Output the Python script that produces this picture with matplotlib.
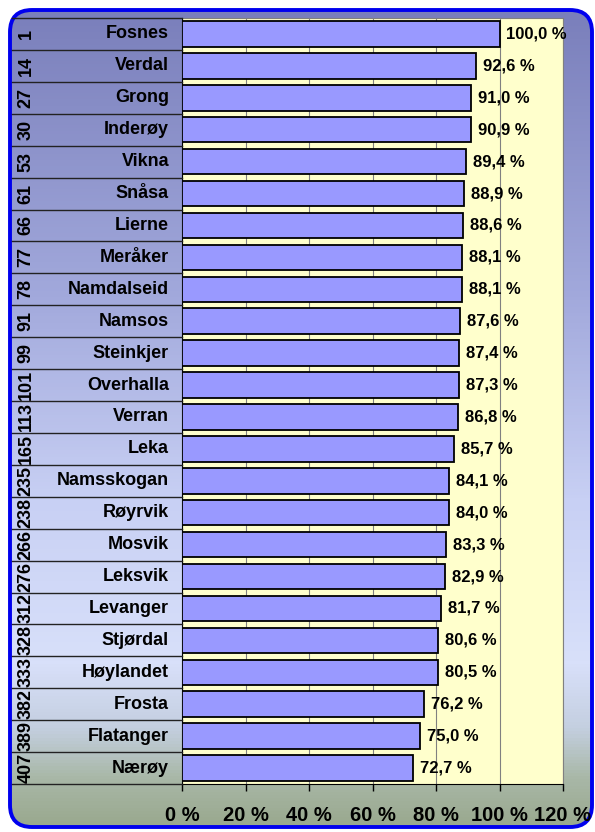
import matplotlib
matplotlib.use("Agg")
import matplotlib.pyplot as plt
import numpy as np
from matplotlib.colors import LinearSegmentedColormap
from matplotlib.patches import FancyBboxPatch

plt.rcParams["font.family"] = ["Liberation Sans", "DejaVu Sans"]

ranks = [1, 14, 27, 30, 53, 61, 66, 77, 78, 91, 99, 101, 113, 165, 235, 238,
         266, 276, 312, 328, 333, 382, 389, 407]
names = ["Fosnes", "Verdal", "Grong", "Inderøy", "Vikna", "Snåsa", "Lierne",
         "Meråker", "Namdalseid", "Namsos", "Steinkjer", "Overhalla", "Verran",
         "Leka", "Namsskogan", "Røyrvik", "Mosvik", "Leksvik", "Levanger",
         "Stjørdal", "Høylandet", "Frosta", "Flatanger", "Nærøy"]
values = [100.0, 92.6, 91.0, 90.9, 89.4, 88.9, 88.6, 88.1, 88.1, 87.6, 87.4,
          87.3, 86.8, 85.7, 84.1, 84.0, 83.3, 82.9, 81.7, 80.6, 80.5, 76.2,
          75.0, 72.7]
xticks = [0, 20, 40, 60, 80, 100, 120]

W, H = 595, 832
fig = plt.figure(figsize=(W / 100, H / 100), dpi=100)
fig.patch.set_facecolor("white")

# background gradient inside a rounded frame
bg = fig.add_axes([0, 0, 1, 1])
bg.set_xlim(0, W)
bg.set_ylim(H, 0)
bg.axis("off")
grad_cmap = LinearSegmentedColormap.from_list(
    "bg",
    [(0.0, "#7a7fbb"), (0.35, "#a2a9dc"), (0.6, "#c8d0f4"), (0.8, "#d8e0fa"),
     (0.88, "#c4cfe0"), (0.94, "#a9b8a8"), (1.0, "#9aa88e")],
)
grad = np.linspace(0, 1, 256).reshape(-1, 1)
frame = FancyBboxPatch((10, 10), 582, 817, boxstyle="round,pad=0,rounding_size=22",
                       facecolor="none", edgecolor="#0000ee", linewidth=2.8, zorder=3)
im = bg.imshow(grad, cmap=grad_cmap, aspect="auto", extent=[10, 592, 827, 10], zorder=1)
clip = FancyBboxPatch((10, 10), 582, 817, boxstyle="round,pad=0,rounding_size=22",
                      facecolor="none", edgecolor="none", transform=bg.transData)
im.set_clip_path(clip)
bg.add_patch(frame)

# main chart area
x0, x1, y0, y1 = 182, 563, 18, 784
ax = fig.add_axes([x0 / W, 1 - y1 / H, (x1 - x0) / W, (y1 - y0) / H])
ax.set_facecolor("#ffffcc")
pos = np.arange(len(values))
ax.barh(pos, values, height=0.8, color="#9999ff", edgecolor="black", linewidth=1.3, zorder=3)
ax.set_xlim(0, 120)
ax.set_ylim(len(values) - 0.5, -0.5)
ax.set_xticks(xticks)
ax.set_xticklabels([f"{t} %" for t in xticks], fontsize=14.5, fontweight="bold")
ax.set_yticks([])
ax.tick_params(axis="x", length=5, width=1, pad=11, color="black")
ax.grid(axis="x", color="#808080", linewidth=0.8, zorder=1)
ax.spines["left"].set_color("black")
ax.spines["bottom"].set_color("black")
ax.spines["right"].set_color("#808080")
ax.spines["top"].set_color("#808080")

for i, v in enumerate(values):
    ax.annotate(f"{v:.1f}".replace(".", ",") + " %", (v, i), xytext=(5, 0),
                textcoords="offset points", va="center", ha="left",
                fontsize=12, fontweight="bold", zorder=4)

# left label table
ytr = ax.get_yaxis_transform()
left_edge = (12 - x0) / (x1 - x0)
name_x = (169 - x0) / (x1 - x0)
rank_x = (26 - x0) / (x1 - x0)
for i in range(len(values) + 1):
    ax.plot([left_edge, 0], [i - 0.5, i - 0.5], transform=ytr, color="#222222",
            linewidth=1, clip_on=False, zorder=5)
for i, (r, n) in enumerate(zip(ranks, names)):
    ax.text(name_x, i, n, transform=ytr, ha="right", va="center",
            fontsize=13, fontweight="bold")
    ax.text(rank_x, i, str(r), transform=ytr, ha="center", va="center",
            rotation=90, fontsize=13, fontweight="bold")

fig.savefig("out.png", dpi=100, facecolor="white")
